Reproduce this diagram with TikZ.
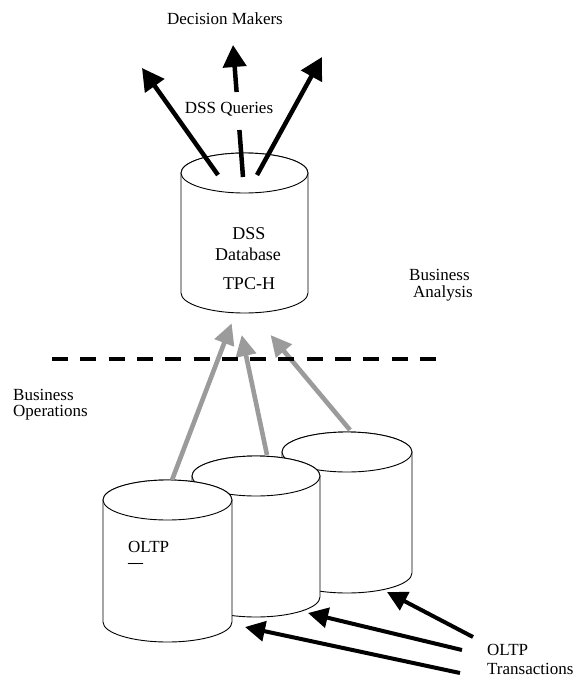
\documentclass[tikz,border=0pt]{standalone}
\usepackage{fontspec}
\setmainfont{Liberation Serif}
\usetikzlibrary{arrows.meta}
\definecolor{feedgray}{RGB}{155,155,155}

% database drum: name, centre x, top y, bottom y, x radius, y radius
\newcommand\dbdrum[6]{%
  \filldraw[drum] (#2-#5,#3) -- (#2-#5,#4)
    arc[start angle=180,end angle=360,x radius=#5pt,y radius=#6pt]
    -- (#2+#5,#3)
    arc[start angle=0,end angle=180,x radius=#5pt,y radius=#6pt] -- cycle;
  \draw[drum] (#2,#3) ellipse[x radius=#5pt,y radius=#6pt];
  \coordinate (#1) at (#2,#3);
  \coordinate (#1-base) at (#2,#4);
}

\begin{document}
\begin{tikzpicture}[x=1pt,y=-1pt,
  drum/.style={draw=black,line width=0.9pt,fill=white},
  query/.style={line width=4.5pt,-{Triangle[length=22pt,width=23pt]}},
  querybar/.style={line width=4.5pt},
  feed/.style={draw=feedgray,line width=4.6pt,-{Triangle[length=21pt,width=20pt,fill=feedgray]}},
  txn/.style={line width=4pt,-{Triangle[length=20pt,width=20pt]}},
  lbl/.style={font=\fontsize{17}{17}\selectfont,inner sep=0pt},
  dblbl/.style={font=\fontsize{18}{18}\selectfont,inner sep=0pt,anchor=base},
  divider/.style={line width=4.5pt,dash pattern=on 16pt off 12.3pt},
]
\useasboundingbox (0,0) rectangle (575,677);

% ---- decision support database ----
\dbdrum{dss}{244.5}{173}{293}{63.5}{20}
\node[dblbl] (dsst) at (249,239) {DSS};
\node[dblbl] (dssd) at (248,260) {Database};
\node[dblbl] (dssh) at (249,289) {TPC-H};

% ---- operational databases (back to front) ----
\dbdrum{oltpc}{347}{452}{573}{65}{20}
\dbdrum{oltpb}{256}{476}{597}{64}{20}
\dbdrum{oltpa}{167.5}{500}{622}{64.5}{20}
\node[lbl,anchor=base west] (oltpname) at (128,552) {OLTP};
\node[font=\fontsize{15}{15}\selectfont\bfseries,inner sep=0pt,anchor=base west] (oltpdash) at (128,567.5) {—};

% ---- queries going out to the decision makers ----
\coordinate (q1) at (218,175);
\coordinate (q2) at (243,177);
\coordinate (q3) at (257,175);
\coordinate (dm1) at (142,68);
\coordinate (dm2) at (233,45);
\coordinate (dm3) at (322,57);
\coordinate (qgapb) at (239.4,130);
\coordinate (qgapt) at (236.6,92);
\draw[query] (q1) -- (dm1);
\draw[querybar] (q2) -- (qgapb);
\draw[query] (qgapt) -- (dm2);
\draw[query] (q3) -- (dm3);
\node[lbl,anchor=base] (dm) at (225,25) {Decision Makers};
\node[lbl,anchor=base] (dq) at (229,113) {DSS Queries};

% ---- data fed up from the operational side ----
\coordinate (fa) at (172,480);
\coordinate (fb) at (267,455);
\coordinate (fc) at (350,430);
\coordinate (ta) at (231.7,323.3);
\coordinate (tb) at (241.7,335);
\coordinate (tc) at (270.5,335);
\draw[feed] (fa) -- (ta);
\draw[feed] (fb) -- (tb);
\draw[feed] (fc) -- (tc);

% ---- boundary between analysis and operations ----
\coordinate (divl) at (52,359);
\coordinate (divr) at (437,359);
\draw[divider] (divl) -- (divr);

\node[lbl,anchor=base west] (ba1) at (409,280) {Business};
\node[lbl,anchor=base west] (ba2) at (413,297) {Analysis};
\node[lbl,anchor=base west] (bo1) at (13,400) {Business};
\node[lbl,anchor=base west] (bo2) at (13,416) {Operations};

% ---- incoming transactions ----
\coordinate (sc) at (473,637);
\coordinate (sb) at (462,650);
\coordinate (sa) at (460,673);
\coordinate (hc) at (387,592);
\coordinate (hb) at (308,613);
\coordinate (ha) at (245,627);
\draw[txn] (sc) -- (hc);
\draw[txn] (sb) -- (hb);
\draw[txn] (sa) -- (ha);
\node[lbl,anchor=base west] (tx1) at (487,655) {OLTP};
\node[lbl,anchor=base west] (tx2) at (487,674) {Transactions};
\end{tikzpicture}
\end{document}
